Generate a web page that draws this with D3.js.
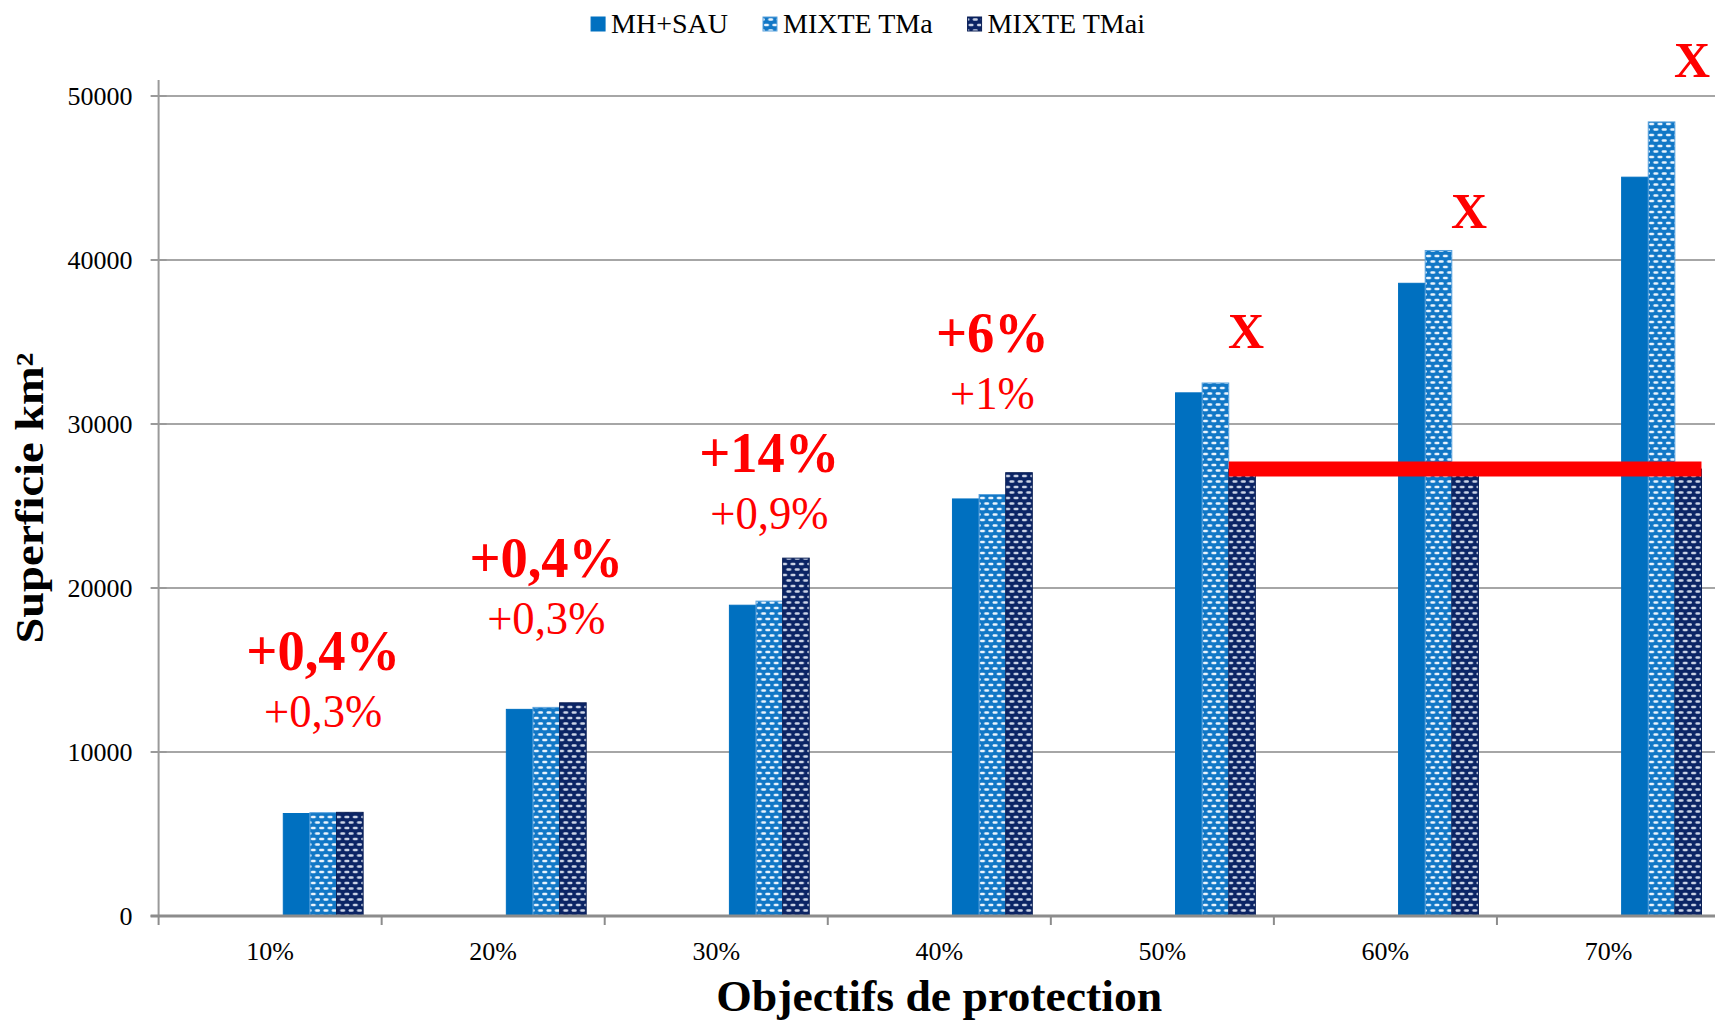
<!DOCTYPE html>
<html>
<head>
<meta charset="utf-8">
<script src="https://cdn.jsdelivr.net/npm/d3@7"></script>
<style>
  html, body { margin: 0; padding: 0; background: #fff; }
  svg { display: block; }
  text { font-family: "Liberation Serif", "Times New Roman", serif; }
</style>
</head>
<body>
<script>
// Surface protégée (km²) par objectif de protection, pour trois scénarios
const categories = ["10%", "20%", "30%", "40%", "50%", "60%", "70%"];
const seriesNames = ["MH+SAU", "MIXTE TMa", "MIXTE TMai"];
const mhSau     = [6250, 12600, 18950, 25430, 31900, 38580, 45050];
const mixteTMa  = [6300, 12720, 19200, 25700, 32500, 40580, 48420];
const mixteTMai = [6320, 13000, 21820, 27030, 27250, 27250, 27250];
const yTicks = [0, 10000, 20000, 30000, 40000, 50000];

// Plafond atteignable par le scénario MIXTE TMai
const plafondTMai = 27250;
const plafondFrom = "50%";
const plafondTo = "70%";

// Gains annotés au-dessus des groupes
const gainCategories = ["10%", "20%", "30%", "40%"];
const gainBold    = ["+0,4%", "+0,4%", "+14%", "+6%"];
const gainRegular = ["+0,3%", "+0,3%", "+0,9%", "+1%"];
const gainLevel   = [15000, 20650, 27050, 34400];

// Objectifs non atteignables
const crossCategories = ["50%", "60%", "70%"];
const crossLevel = [34630, 41980, 51180];

const W = 1715, H = 1023;
const svg = d3.select("body").append("svg").attr("width", W).attr("height", H);

const defs = svg.append("defs");
function dotPattern(id, bg, dash) {
  const pw = 8.4, ph = 11;
  const p = defs.append("pattern").attr("id", id)
    .attr("patternUnits", "userSpaceOnUse").attr("width", pw).attr("height", ph);
  p.append("rect").attr("width", pw).attr("height", ph).attr("fill", bg);
  const dashes = [[1, 1.8], [5.2, 7.3], [5.2 - pw, 7.3]];
  dashes.forEach(([dx, dy]) => {
    p.append("rect").attr("x", dx).attr("y", dy).attr("width", 5).attr("height", 2.4)
      .attr("rx", 1.2).attr("fill", dash);
  });
}
dotPattern("patTMa", "#1177c6", "#eaf4fd");
dotPattern("patTMai", "#0b2465", "#cbd3e6");

const fills = ["#0070c0", "url(#patTMa)", "url(#patTMai)"];
const strokes = ["#0070c0", "#5aa2dc", "#0a1f55"];

const plotLeft = 158.6, plotRight = 1720, yBase = 916, yTopPx = 96, axisTop = 80;

const x0 = d3.scaleBand().domain(categories).range([plotLeft, plotRight]).paddingInner(0).paddingOuter(0);
const x1 = d3.scaleBand().domain(seriesNames)
  .range([x0.bandwidth() * 0.559, x0.bandwidth() * 0.917]).padding(0);
const y = d3.scaleLinear().domain([0, 50000]).range([yBase, yTopPx]);

// Quadrillage horizontal
svg.append("g").selectAll("line").data(yTicks.filter(d => d > 0)).join("line")
  .attr("x1", plotLeft).attr("x2", plotRight)
  .attr("y1", d => y(d)).attr("y2", d => y(d))
  .attr("stroke", "#a6a6a6").attr("stroke-width", 2);

// Axe vertical
const yAxis = svg.append("g");
yAxis.append("line").attr("x1", plotLeft).attr("x2", plotLeft)
  .attr("y1", axisTop).attr("y2", yBase).attr("stroke", "#9a9a9a").attr("stroke-width", 2);
yAxis.selectAll(".tk").data(yTicks).join("line").attr("class", "tk")
  .attr("x1", plotLeft - 8).attr("x2", plotLeft + 8)
  .attr("y1", d => y(d)).attr("y2", d => y(d))
  .attr("stroke", "#9a9a9a").attr("stroke-width", 2);
yAxis.selectAll("text").data(yTicks).join("text")
  .attr("x", plotLeft - 26).attr("y", d => y(d)).attr("dy", "0.35em")
  .attr("text-anchor", "end").attr("font-size", 26).attr("fill", "#000")
  .text(d => d);

// Barres
const series = [mhSau, mixteTMa, mixteTMai];
const groups = svg.append("g").selectAll("g").data(categories).join("g")
  .attr("transform", d => `translate(${x0(d)},0)`);
groups.selectAll("rect")
  .data((c, i) => seriesNames.map((s, k) => ({ s, k, v: series[k][i] })))
  .join("rect")
  .attr("x", d => x1(d.s)).attr("width", x1.bandwidth())
  .attr("y", d => y(d.v)).attr("height", d => yBase - y(d.v))
  .attr("fill", d => fills[d.k])
  .attr("stroke", d => strokes[d.k]).attr("stroke-width", 1);

// Axe horizontal
const xAxis = svg.append("g");
xAxis.append("line").attr("x1", plotLeft - 8).attr("x2", plotRight)
  .attr("y1", yBase).attr("y2", yBase).attr("stroke", "#8c8c8c").attr("stroke-width", 3);
xAxis.selectAll(".tk").data(d3.range(categories.length + 1)).join("line").attr("class", "tk")
  .attr("x1", i => plotLeft + i * x0.bandwidth())
  .attr("x2", i => plotLeft + i * x0.bandwidth())
  .attr("y1", yBase).attr("y2", yBase + 9)
  .attr("stroke", "#8c8c8c").attr("stroke-width", 2);
xAxis.selectAll("text").data(categories).join("text")
  .attr("x", d => x0(d) + x0.bandwidth() / 2).attr("y", 960)
  .attr("text-anchor", "middle").attr("font-size", 26).attr("fill", "#000")
  .text(d => d);

// Titres des axes
svg.append("text").attr("x", (plotLeft + plotRight) / 2).attr("y", 1011)
  .attr("text-anchor", "middle").attr("font-size", 44).attr("font-weight", "bold")
  .attr("textLength", 446).attr("lengthAdjust", "spacingAndGlyphs")
  .text("Objectifs de protection");
svg.append("text").attr("transform", `translate(43,498) rotate(-90)`)
  .attr("text-anchor", "middle").attr("font-size", 40).attr("font-weight", "bold")
  .attr("textLength", 291).attr("lengthAdjust", "spacingAndGlyphs")
  .text("Superficie km²");

// Plafond TMai
svg.append("line")
  .attr("x1", x0(plafondFrom) + x1("MIXTE TMai"))
  .attr("x2", x0(plafondTo) + x1("MIXTE TMai") + x1.bandwidth())
  .attr("y1", y(plafondTMai)).attr("y2", y(plafondTMai))
  .attr("stroke", "#ff0000").attr("stroke-width", 15);

// Gains annotés
const cx = c => x0(c) + x1("MIXTE TMa") + x1.bandwidth() / 2;
svg.append("g").selectAll("text").data(gainCategories).join("text")
  .attr("x", c => cx(c)).attr("y", (c, i) => y(gainLevel[i]))
  .attr("text-anchor", "middle").attr("font-size", 58).attr("font-weight", "bold")
  .attr("fill", "#ff0000").text((c, i) => gainBold[i])
  .each(function () {
    const len = this.getComputedTextLength();
    d3.select(this).attr("textLength", len * 0.94).attr("lengthAdjust", "spacingAndGlyphs");
  });
svg.append("g").selectAll("text").data(gainCategories).join("text")
  .attr("x", c => cx(c)).attr("y", (c, i) => y(gainLevel[i]) + 57)
  .attr("text-anchor", "middle").attr("font-size", 47)
  .attr("fill", "#ff0000").text((c, i) => gainRegular[i])
  .each(function () {
    const len = this.getComputedTextLength();
    d3.select(this).attr("textLength", len * 0.95).attr("lengthAdjust", "spacingAndGlyphs");
  });

// Croix
svg.append("g").selectAll("text").data(crossCategories).join("text")
  .attr("x", c => x0(c) + x1("MIXTE TMai") + x1.bandwidth() / 2 + 4)
  .attr("y", (c, i) => y(crossLevel[i]))
  .attr("text-anchor", "middle").attr("font-size", 50).attr("font-weight", "bold")
  .attr("fill", "#ff0000").text("X");

// Légende
const legend = svg.append("g");
let lx = 0;
seriesNames.forEach((s, k) => {
  const g = legend.append("g").attr("transform", `translate(${lx},0)`);
  g.append("rect").attr("x", 0).attr("y", 17).attr("width", 14).attr("height", 14)
    .attr("fill", fills[k]).attr("stroke", strokes[k]).attr("stroke-width", 1);
  const t = g.append("text").attr("x", 20).attr("y", 33).attr("font-size", 28).text(s);
  lx += 20 + t.node().getComputedTextLength() + 35;
});
const legendWidth = lx - 35;
legend.attr("transform", `translate(${868 - legendWidth / 2},0)`);
</script>
</body>
</html>
